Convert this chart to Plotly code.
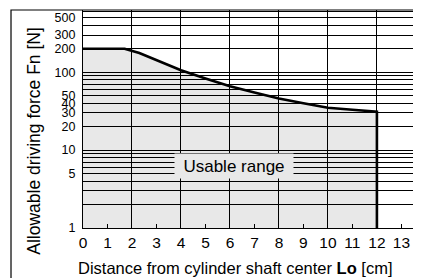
import math
import plotly.graph_objects as go

# Data
dist_cm = [0, 1.7, 2.3, 3, 4, 5, 6, 7, 8, 9, 10, 11, 12]
force_n = [200, 200, 176, 143, 106, 83, 66, 55, 46, 40, 35, 33, 31]
force_min = 1
x_ticks = list(range(0, 14))
y_label_vals = [1, 5, 10, 20, 30, 40, 50, 100, 200, 300, 500]
y_grid_vals = [m * d for d in (1, 10, 100) for m in range(1, 10)]
region_label = "Usable range"
region_label_pos = (6.15, 6.2)
x_title = "Distance from cylinder shaft center <b>Lo</b> [cm]"
y_title = "Allowable driving force Fn [N]"

FONT = "Liberation Sans, Arial, Helvetica, sans-serif"

fig = go.Figure()

# Usable range fill (closed polygon down to the minimum force)
fig.add_trace(go.Scatter(
    x=dist_cm + [dist_cm[-1], dist_cm[0]],
    y=force_n + [force_min, force_min],
    fill="toself", fillcolor="rgba(0,0,0,0.09)",
    line=dict(width=0), mode="lines", hoverinfo="skip", showlegend=False,
))

# Boundary curve
fig.add_trace(go.Scatter(
    x=dist_cm + [dist_cm[-1]],
    y=force_n + [force_min],
    mode="lines", line=dict(color="black", width=2.6),
    showlegend=False, hoverinfo="skip",
))

y_ticktext = [str(v) if v in y_label_vals else "" for v in y_grid_vals] + ["500"]
y_tickvals = y_grid_vals + [500]

fig.update_layout(
    width=421, height=278,
    margin=dict(l=75, r=8, t=2, b=58, autoexpand=False),
    paper_bgcolor="white", plot_bgcolor="white",
    font=dict(family=FONT, color="black"),
    xaxis=dict(
        range=[0, 13.8], tickvals=x_ticks, ticktext=[str(v) for v in x_ticks],
        showgrid=False, ticks="inside", ticklen=4, tickcolor="black", tickwidth=1,
        tickfont=dict(size=15.5, family=FONT), zeroline=False, automargin=False,
        showline=True, linecolor="black", linewidth=1.2,
        minor=dict(showgrid=True, tick0=0, dtick=2, gridcolor="black", gridwidth=1.1),
    ),
    yaxis=dict(
        type="log", range=[0, 2.798],
        tickvals=y_tickvals, ticktext=y_ticktext, automargin=False,
        showgrid=True, gridcolor="black", gridwidth=1.1,
        ticks="", tickfont=dict(size=12.5, family=FONT), ticklabelstandoff=4,
        showline=True, linecolor="black", linewidth=1.2, zeroline=False,
    ),
    annotations=[
        dict(
            x=region_label_pos[0], y=math.log10(region_label_pos[1]),
            xref="x", yref="y", text=region_label, showarrow=False,
            font=dict(size=17, family=FONT, color="black"),
            bgcolor="#e8e8e8", width=118, height=24, borderpad=0,
        ),
        dict(
            x=0.45, y=-0.185, xref="paper", yref="paper", text=x_title,
            showarrow=False, xanchor="center", yanchor="middle",
            font=dict(size=16.5, family=FONT, color="black"),
        ),
        dict(
            x=-0.145, y=0.40, xref="paper", yref="paper", text=y_title,
            showarrow=False, xanchor="center", yanchor="middle", textangle=-90,
            font=dict(size=17.5, family=FONT, color="black"),
        ),
    ],
    shapes=[dict(
        type="rect", xref="paper", yref="paper",
        x0=-0.213, x1=1.2, y0=-0.4, y1=1.0,
        line=dict(color="black", width=1.2), fillcolor="rgba(0,0,0,0)", layer="above",
    )],
)

fig.write_html("out.html")
